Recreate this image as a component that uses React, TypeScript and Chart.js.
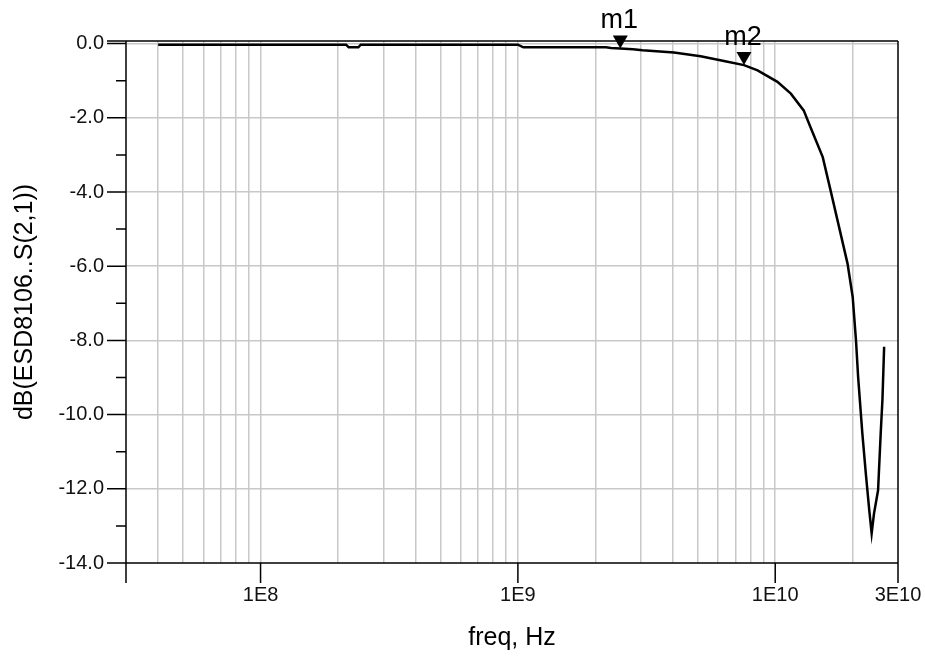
import React, { useEffect, useRef } from 'react';
import { Chart, registerables } from 'chart.js';

Chart.register(...registerables);

// ---- data ----
const freqHz = [
  4e7, 1e8, 2.15e8, 2.2e8, 2.4e8, 2.45e8, 1.0e9, 1.05e9, 2.2e9, 2.3e9, 2.5e9, 2.8e9,
  3.05e9, 4.04e9, 5.13e9, 6.32e9, 7.56e9, 8.54e9, 1.02e10, 1.15e10, 1.29e10, 1.37e10,
  1.53e10, 1.64e10, 1.77e10, 1.91e10, 2.0e10, 2.06e10, 2.1e10, 2.18e10, 2.25e10,
  2.32e10, 2.37e10, 2.42e10, 2.51e10, 2.57e10, 2.61e10, 2.65e10,
];
const s21dB = [
  -0.03, -0.03, -0.03, -0.1, -0.1, -0.03, -0.03, -0.1, -0.1, -0.12, -0.13, -0.15,
  -0.18, -0.24, -0.34, -0.47, -0.58, -0.72, -1.03, -1.35, -1.8, -2.25,
  -3.06, -3.95, -4.94, -5.93, -6.83, -8.0, -8.99, -10.5, -11.6,
  -12.58, -13.2, -12.67, -12.04, -10.5, -9.6, -8.17,
];

const markerNames = ['m1', 'm2'];
const markerFreqHz = [2.5e9, 7.56e9];
const markerDB = [-0.13, -0.58];

const xGridHz = [
  4e7, 5e7, 6e7, 7e7, 8e7, 9e7,
  1e8, 2e8, 3e8, 4e8, 5e8, 6e8, 7e8, 8e8, 9e8,
  1e9, 2e9, 3e9, 4e9, 5e9, 6e9, 7e9, 8e9, 9e9,
  1e10, 2e10, 3e10,
];
const xLabelHz = [1e8, 1e9, 1e10, 3e10];
const xLabelText = ['1E8', '1E9', '1E10', '3E10'];
const yMajor = [0, -2, -4, -6, -8, -10, -12, -14];
const yMinor = [-1, -3, -5, -7, -9, -11, -13];

const X_MIN = 3e7;
const X_MAX = 3e10;
const Y_MIN = -14;
const Y_MAX = 0.07;

const FONT = '"Liberation Sans", Arial, Helvetica, sans-serif';

const framePlugin = {
  id: 'adsFrame',
  beforeDatasetsDraw(chart: any) {
    const { ctx, chartArea: a, scales } = chart;
    const x = scales.x;
    const y = scales.y;
    ctx.save();
    ctx.strokeStyle = '#000';
    ctx.lineWidth = 1.5;
    ctx.beginPath();
    ctx.moveTo(a.left, a.top);
    ctx.lineTo(a.left, a.bottom + 20);
    ctx.moveTo(a.right, a.top);
    ctx.lineTo(a.right, a.bottom + 20);
    ctx.moveTo(a.left - 19, a.top);
    ctx.lineTo(a.right, a.top);
    ctx.moveTo(a.left - 19, a.bottom);
    ctx.lineTo(a.right, a.bottom);
    yMajor.forEach((v) => {
      const py = y.getPixelForValue(v);
      ctx.moveTo(a.left - 19, py);
      ctx.lineTo(a.left, py);
    });
    yMinor.forEach((v) => {
      const py = y.getPixelForValue(v);
      ctx.moveTo(a.left - 10, py);
      ctx.lineTo(a.left, py);
    });
    xLabelHz.forEach((v) => {
      const px = x.getPixelForValue(v);
      ctx.moveTo(px, a.bottom);
      ctx.lineTo(px, a.bottom + 20);
    });
    ctx.stroke();
    ctx.restore();
  },
  afterDatasetsDraw(chart: any) {
    const { ctx, scales } = chart;
    const x = scales.x;
    const y = scales.y;
    ctx.save();
    ctx.fillStyle = '#000';
    ctx.font = `27px ${FONT}`;
    ctx.textAlign = 'center';
    ctx.textBaseline = 'alphabetic';
    markerNames.forEach((name, i) => {
      const px = x.getPixelForValue(markerFreqHz[i]);
      const py = y.getPixelForValue(markerDB[i]);
      ctx.beginPath();
      ctx.moveTo(px, py);
      ctx.lineTo(px - 7.5, py - 13);
      ctx.lineTo(px + 7.5, py - 13);
      ctx.closePath();
      ctx.fill();
      ctx.fillText(name, px - 1, py - 20);
    });
    ctx.restore();
  },
};

export default function App() {
  const ref = useRef<HTMLCanvasElement | null>(null);

  useEffect(() => {
    if (!ref.current) return;
    const chart = new Chart(ref.current, {
      type: 'line',
      data: {
        datasets: [
          {
            data: freqHz.map((f, i) => ({ x: f, y: s21dB[i] })),
            borderColor: '#000',
            borderWidth: 2.5,
            pointRadius: 0,
            tension: 0,
            fill: false,
          },
        ],
      },
      options: {
        animation: false,
        responsive: false,
        devicePixelRatio: 1,
        layout: { padding: { top: 41, right: 27, left: 0, bottom: 0 } },
        plugins: { legend: { display: false }, tooltip: { enabled: false } },
        scales: {
          x: {
            type: 'logarithmic',
            position: 'bottom',
            min: X_MIN,
            max: X_MAX,
            afterBuildTicks: (scale: any) => {
              scale.ticks = xGridHz.map((v) => ({ value: v }));
            },
            afterFit: (scale: any) => {
              scale.height = 96;
              scale.paddingLeft = 0;
              scale.paddingRight = 0;
            },
            grid: {
              color: (c: any) => (c.tick && c.tick.value >= X_MAX ? 'rgba(0,0,0,0)' : '#c8c8c8'),
              lineWidth: 1.5,
              drawTicks: false,
            },
            border: { display: false },
            ticks: {
              autoSkip: false,
              maxRotation: 0,
              padding: 20,
              color: '#111',
              font: { family: FONT, size: 20 },
              callback: (v: any) => {
                const idx = xLabelHz.indexOf(Number(v));
                return idx >= 0 ? xLabelText[idx] : '';
              },
            },
            title: {
              display: true,
              text: 'freq, Hz',
              color: '#000',
              font: { family: FONT, size: 25 },
              padding: { top: 0, bottom: 6 },
            },
          },
          y: {
            type: 'linear',
            position: 'left',
            min: Y_MIN,
            max: Y_MAX,
            afterBuildTicks: (scale: any) => {
              scale.ticks = yMajor.map((v) => ({ value: v }));
            },
            afterFit: (scale: any) => {
              scale.width = 126;
              scale.paddingTop = 0;
              scale.paddingBottom = 0;
            },
            grid: {
              color: (c: any) => (c.tick && c.tick.value <= Y_MIN ? 'rgba(0,0,0,0)' : '#c8c8c8'),
              lineWidth: 1.5,
              drawTicks: false,
            },
            border: { display: false },
            ticks: {
              padding: 22,
              color: '#111',
              font: { family: FONT, size: 20 },
              callback: (v: any) => Number(v).toFixed(1),
            },
            title: {
              display: true,
              text: 'dB(ESD8106..S(2,1))',
              color: '#000',
              font: { family: FONT, size: 25 },
              padding: { top: 10, bottom: 0 },
            },
          },
        },
      },
      plugins: [framePlugin],
    } as any);
    return () => chart.destroy();
  }, []);

  return (
    <div style={{ position: 'absolute', left: 0, top: 0, width: 925, height: 659, background: '#fff' }}>
      <canvas ref={ref} width={925} height={659} style={{ width: 925, height: 659, display: 'block' }} />
    </div>
  );
}
